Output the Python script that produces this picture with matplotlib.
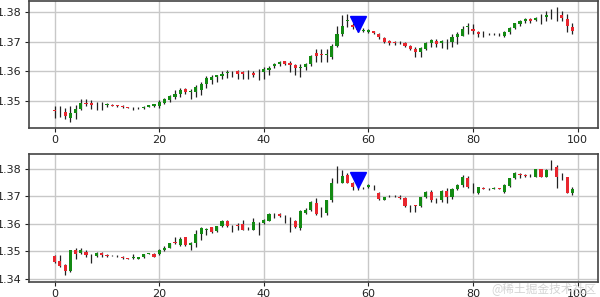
import matplotlib
matplotlib.use('Agg')
import matplotlib.pyplot as plt
import numpy as np

# --- candle data, upper panel ---
top_open = [1.3468, 1.3466, 1.3463, 1.3444, 1.3460, 1.3474, 1.3494, 1.3492, 1.3488, 1.3487,
            1.3487, 1.3487, 1.3486, 1.3482, 1.3480, 1.3477, 1.3475, 1.3477, 1.3481, 1.3484,
            1.3484, 1.3493, 1.3502, 1.3514, 1.3523, 1.3540, 1.3531, 1.3530, 1.3538, 1.3558,
            1.3569, 1.3580, 1.3583, 1.3594, 1.3597, 1.3600, 1.3596, 1.3591, 1.3594, 1.3591,
            1.3597, 1.3605, 1.3617, 1.3625, 1.3633, 1.3629, 1.3621, 1.3612, 1.3614, 1.3623,
            1.3660, 1.3657, 1.3656, 1.3647, 1.3686, 1.3725, 1.3770, 1.3756, 1.3745, 1.3735,
            1.3733, 1.3734, 1.3725, 1.3712, 1.3703, 1.3698, 1.3697, 1.3695, 1.3686, 1.3675,
            1.3664, 1.3675, 1.3694, 1.3701, 1.3694, 1.3699, 1.3697, 1.3714, 1.3720, 1.3750,
            1.3742, 1.3731, 1.3725, 1.3724, 1.3725, 1.3724, 1.3720, 1.3731, 1.3745, 1.3759,
            1.3768, 1.3775, 1.3772, 1.3778, 1.3783, 1.3790, 1.3790, 1.3790, 1.3775, 1.3748]
top_close = [1.3465, 1.3467, 1.3449, 1.3458, 1.3473, 1.3493, 1.3490, 1.3488, 1.3487, 1.3488,
             1.3490, 1.3484, 1.3483, 1.3481, 1.3477, 1.3476, 1.3478, 1.3481, 1.3485, 1.3489,
             1.3498, 1.3508, 1.3517, 1.3525, 1.3536, 1.3531, 1.3532, 1.3547, 1.3558, 1.3578,
             1.3580, 1.3586, 1.3591, 1.3598, 1.3598, 1.3591, 1.3591, 1.3592, 1.3586, 1.3592,
             1.3608, 1.3612, 1.3625, 1.3631, 1.3626, 1.3622, 1.3610, 1.3613, 1.3625, 1.3653,
             1.3653, 1.3655, 1.3657, 1.3686, 1.3725, 1.3753, 1.3771, 1.3750, 1.3740, 1.3740,
             1.3738, 1.3728, 1.3714, 1.3697, 1.3694, 1.3695, 1.3698, 1.3686, 1.3675, 1.3664,
             1.3678, 1.3694, 1.3705, 1.3692, 1.3701, 1.3700, 1.3714, 1.3725, 1.3742, 1.3751,
             1.3734, 1.3725, 1.3726, 1.3726, 1.3726, 1.3726, 1.3731, 1.3745, 1.3761, 1.3770,
             1.3775, 1.3770, 1.3781, 1.3779, 1.3789, 1.3791, 1.3789, 1.3779, 1.3753, 1.3734]
top_high = [1.3482, 1.3483, 1.3478, 1.3482, 1.3486, 1.3508, 1.3505, 1.3502, 1.3497, 1.3497,
            1.3494, 1.3489, 1.3488, 1.3487, 1.3481, 1.3480, 1.3480, 1.3483, 1.3488, 1.3491,
            1.3502, 1.3511, 1.3520, 1.3536, 1.3545, 1.3545, 1.3541, 1.3553, 1.3564, 1.3583,
            1.3586, 1.3589, 1.3600, 1.3603, 1.3600, 1.3603, 1.3600, 1.3603, 1.3600, 1.3608,
            1.3614, 1.3619, 1.3627, 1.3633, 1.3636, 1.3633, 1.3625, 1.3625, 1.3629, 1.3656,
            1.3675, 1.3675, 1.3675, 1.3692, 1.3753, 1.3790, 1.3792, 1.3764, 1.3750, 1.3745,
            1.3742, 1.3736, 1.3728, 1.3716, 1.3705, 1.3701, 1.3701, 1.3697, 1.3689, 1.3681,
            1.3681, 1.3697, 1.3709, 1.3709, 1.3705, 1.3709, 1.3727, 1.3731, 1.3753, 1.3764,
            1.3759, 1.3736, 1.3736, 1.3728, 1.3728, 1.3728, 1.3734, 1.3748, 1.3764, 1.3772,
            1.3779, 1.3779, 1.3784, 1.3792, 1.3803, 1.3809, 1.3815, 1.3803, 1.3792, 1.3764]
top_low = [1.3443, 1.3445, 1.3441, 1.3430, 1.3438, 1.3469, 1.3482, 1.3474, 1.3471, 1.3471,
           1.3480, 1.3482, 1.3481, 1.3476, 1.3475, 1.3471, 1.3472, 1.3474, 1.3479, 1.3481,
           1.3478, 1.3489, 1.3497, 1.3508, 1.3514, 1.3525, 1.3508, 1.3514, 1.3520, 1.3545,
           1.3558, 1.3564, 1.3575, 1.3578, 1.3580, 1.3575, 1.3575, 1.3575, 1.3580, 1.3569,
           1.3575, 1.3589, 1.3611, 1.3619, 1.3622, 1.3597, 1.3589, 1.3580, 1.3605, 1.3617,
           1.3631, 1.3631, 1.3631, 1.3642, 1.3681, 1.3720, 1.3748, 1.3742, 1.3731, 1.3731,
           1.3728, 1.3725, 1.3709, 1.3694, 1.3689, 1.3690, 1.3692, 1.3683, 1.3672, 1.3647,
           1.3647, 1.3672, 1.3681, 1.3681, 1.3678, 1.3675, 1.3681, 1.3692, 1.3720, 1.3725,
           1.3725, 1.3716, 1.3716, 1.3722, 1.3722, 1.3720, 1.3716, 1.3725, 1.3742, 1.3753,
           1.3764, 1.3764, 1.3768, 1.3759, 1.3770, 1.3775, 1.3770, 1.3768, 1.3731, 1.3725]

# --- candle data, lower panel ---
bot_open = [1.3482, 1.3465, 1.3449, 1.3427, 1.3504, 1.3494, 1.3498, 1.3483, 1.3482, 1.3494,
            1.3486, 1.3483, 1.3483, 1.3479, 1.3474, 1.3476, 1.3473, 1.3477, 1.3490, 1.3491,
            1.3488, 1.3504, 1.3513, 1.3533, 1.3522, 1.3550, 1.3522, 1.3528, 1.3562, 1.3579,
            1.3587, 1.3574, 1.3591, 1.3611, 1.3590, 1.3595, 1.3599, 1.3584, 1.3579, 1.3607,
            1.3601, 1.3611, 1.3632, 1.3635, 1.3630, 1.3626, 1.3609, 1.3583, 1.3640, 1.3650,
            1.3674, 1.3640, 1.3638, 1.3687, 1.3760, 1.3750, 1.3778, 1.3748, 1.3734, 1.3730,
            1.3733, 1.3735, 1.3713, 1.3687, 1.3701, 1.3700, 1.3699, 1.3693, 1.3664, 1.3667,
            1.3665, 1.3696, 1.3717, 1.3682, 1.3687, 1.3721, 1.3696, 1.3726, 1.3741, 1.3766,
            1.3725, 1.3711, 1.3731, 1.3727, 1.3727, 1.3730, 1.3717, 1.3738, 1.3766, 1.3780,
            1.3779, 1.3777, 1.3772, 1.3799, 1.3772, 1.3800, 1.3806, 1.3778, 1.3770, 1.3713]
bot_close = [1.3461, 1.3445, 1.3428, 1.3504, 1.3491, 1.3504, 1.3485, 1.3481, 1.3495, 1.3485,
             1.3484, 1.3484, 1.3481, 1.3474, 1.3472, 1.3477, 1.3477, 1.3489, 1.3492, 1.3479,
             1.3504, 1.3513, 1.3528, 1.3528, 1.3546, 1.3522, 1.3530, 1.3561, 1.3583, 1.3580,
             1.3571, 1.3591, 1.3611, 1.3591, 1.3591, 1.3593, 1.3577, 1.3583, 1.3607, 1.3606,
             1.3613, 1.3635, 1.3633, 1.3628, 1.3629, 1.3625, 1.3587, 1.3648, 1.3652, 1.3680,
             1.3635, 1.3641, 1.3687, 1.3748, 1.3761, 1.3774, 1.3750, 1.3735, 1.3733, 1.3729,
             1.3741, 1.3734, 1.3689, 1.3696, 1.3702, 1.3702, 1.3693, 1.3665, 1.3663, 1.3665,
             1.3696, 1.3717, 1.3687, 1.3683, 1.3721, 1.3696, 1.3726, 1.3741, 1.3772, 1.3733,
             1.3726, 1.3733, 1.3728, 1.3726, 1.3730, 1.3727, 1.3741, 1.3766, 1.3787, 1.3777,
             1.3776, 1.3779, 1.3799, 1.3772, 1.3796, 1.3801, 1.3770, 1.3777, 1.3713, 1.3726]
bot_high = [1.3485, 1.3485, 1.3452, 1.3504, 1.3513, 1.3510, 1.3504, 1.3491, 1.3498, 1.3498,
            1.3491, 1.3486, 1.3485, 1.3482, 1.3475, 1.3488, 1.3479, 1.3491, 1.3495, 1.3494,
            1.3507, 1.3518, 1.3530, 1.3552, 1.3550, 1.3552, 1.3534, 1.3579, 1.3587, 1.3583,
            1.3589, 1.3593, 1.3613, 1.3613, 1.3595, 1.3601, 1.3613, 1.3587, 1.3620, 1.3607,
            1.3616, 1.3638, 1.3638, 1.3638, 1.3632, 1.3626, 1.3613, 1.3650, 1.3656, 1.3683,
            1.3693, 1.3662, 1.3687, 1.3766, 1.3809, 1.3796, 1.3784, 1.3754, 1.3735, 1.3733,
            1.3744, 1.3741, 1.3717, 1.3699, 1.3705, 1.3705, 1.3705, 1.3699, 1.3668, 1.3668,
            1.3699, 1.3720, 1.3723, 1.3693, 1.3723, 1.3729, 1.3729, 1.3745, 1.3778, 1.3774,
            1.3748, 1.3735, 1.3733, 1.3731, 1.3733, 1.3731, 1.3744, 1.3768, 1.3790, 1.3784,
            1.3782, 1.3782, 1.3801, 1.3801, 1.3799, 1.3833, 1.3815, 1.3784, 1.3772, 1.3735]
bot_low = [1.3457, 1.3443, 1.3412, 1.3424, 1.3473, 1.3489, 1.3477, 1.3457, 1.3479, 1.3477,
           1.3479, 1.3481, 1.3479, 1.3473, 1.3470, 1.3470, 1.3471, 1.3474, 1.3488, 1.3477,
           1.3485, 1.3501, 1.3510, 1.3526, 1.3518, 1.3518, 1.3504, 1.3516, 1.3540, 1.3559,
           1.3568, 1.3571, 1.3589, 1.3587, 1.3571, 1.3579, 1.3577, 1.3577, 1.3577, 1.3559,
           1.3598, 1.3609, 1.3620, 1.3626, 1.3604, 1.3571, 1.3583, 1.3579, 1.3637, 1.3647,
           1.3632, 1.3626, 1.3632, 1.3680, 1.3748, 1.3748, 1.3748, 1.3723, 1.3723, 1.3726,
           1.3730, 1.3723, 1.3687, 1.3685, 1.3696, 1.3697, 1.3690, 1.3662, 1.3644, 1.3644,
           1.3662, 1.3693, 1.3680, 1.3674, 1.3680, 1.3677, 1.3690, 1.3723, 1.3735, 1.3729,
           1.3711, 1.3708, 1.3726, 1.3723, 1.3725, 1.3725, 1.3713, 1.3735, 1.3764, 1.3766,
           1.3770, 1.3772, 1.3770, 1.3770, 1.3770, 1.3796, 1.3729, 1.3760, 1.3711, 1.3705]

signal_x = [58]
signal_top = [1.3758]
signal_bot = [1.3760]

UP = '#138a13'
DOWN = '#e8262e'


def draw_candles(ax, o, h, l, c):
    o, h, l, c = map(np.asarray, (o, h, l, c))
    x = np.arange(len(o))
    ax.vlines(x, l, h, color='#222222', linewidth=0.9, zorder=2)
    colors = np.where(c >= o, UP, DOWN)
    ax.bar(x, c - o, bottom=o, width=0.6, color=colors, linewidth=0, zorder=3)


plt.rcParams['font.size'] = 8
fig = plt.figure(figsize=(6, 2.97), dpi=100)
ax1 = fig.add_axes([0.048, 0.569, 0.949, 0.428])
ax2 = fig.add_axes([0.048, 0.051, 0.949, 0.430])

draw_candles(ax1, top_open, top_high, top_low, top_close)
draw_candles(ax2, bot_open, bot_high, bot_low, bot_close)
ax1.plot(signal_x, signal_top, 'v', color='blue', markersize=11, zorder=4)
ax2.plot(signal_x, signal_bot, 'v', color='blue', markersize=11, zorder=4)

ax1.set_ylim(1.3409, 1.3837)
ax2.set_ylim(1.3388, 1.3854)
ax1.set_yticks([1.35, 1.36, 1.37, 1.38])
ax2.set_yticks([1.34, 1.35, 1.36, 1.37, 1.38])

for ax in (ax1, ax2):
    ax.set_xlim(-4.95, 103.95)
    ax.set_xticks([0, 20, 40, 60, 80, 100])
    ax.grid(True, color='#c8c8c8', linewidth=1.0, zorder=0)
    ax.set_axisbelow(True)
    for s in ax.spines.values():
        s.set_color('#444444')
        s.set_linewidth(1.2)
    ax.tick_params(length=3, width=0.8, colors='#222222', pad=2)

fig.text(0.995, 0.005, '@稀土掘金技术社区', ha='right', va='bottom', fontsize=8.5,
         color='#d4d4d4', family=['Noto Sans CJK SC', 'DejaVu Sans'])

fig.savefig('out.png', dpi=100)
